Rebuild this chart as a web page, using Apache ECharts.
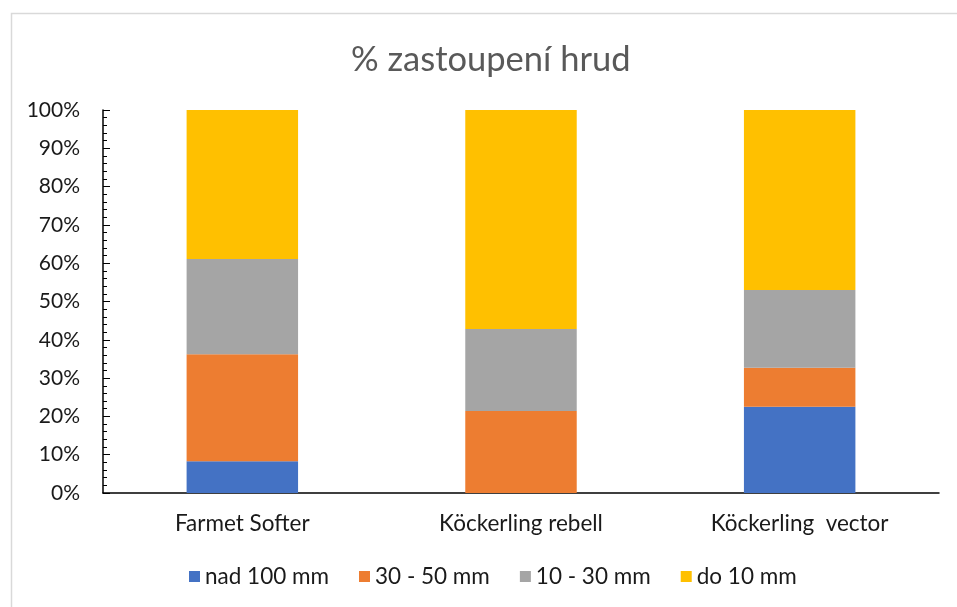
<!DOCTYPE html>
<html>
<head>
<meta charset="utf-8">
<script src="https://cdn.jsdelivr.net/npm/echarts@6/dist/echarts.min.js"></script>
<style>
  html, body { margin: 0; padding: 0; background: #fff; }
  #chart { width: 957px; height: 607px; }
</style>
</head>
<body>
<div id="chart"></div>
<script>
// kategorie a podíly (v %)
const categories = ['Farmet Softer', 'Köckerling rebell', 'Köckerling  vector']
const nad100 = [8.3, 0, 22.5]
const od30do50 = [27.9, 21.4, 10.2]
const od10do30 = [24.9, 21.4, 20.3]
const do10 = [38.9, 57.2, 47.0]
const seriesNames = ['nad 100 mm', '30 - 50 mm', '10 - 30 mm', 'do 10 mm']
const colors = ['#4472C4', '#ED7D31', '#A5A5A5', '#FFC000']

const font = "Lato, 'Open Sans', sans-serif"
const chart = echarts.init(document.getElementById('chart'))

const makeSeries = (name, data, color) => ({
  name,
  type: 'bar',
  stack: 'x',
  data,
  barWidth: '40%',
  itemStyle: { color },
  emphasis: { disabled: true }
})

const option = {
  animation: false,
  // rámeček grafu (vidět jen vlevo a nahoře)
  graphic: [{
    type: 'rect',
    left: 9, top: 11,
    shape: { width: 1000, height: 700 },
    style: { fill: 'none', stroke: '#d9d9d9', lineWidth: 1.5 },
    silent: true
  }],
  title: {
    text: '% zastoupení hrud',
    left: 346,
    top: 37,
    textStyle: { fontFamily: font, fontSize: 34.5, fontWeight: 'normal', color: '#595959' }
  },
  legend: {
    bottom: 14,
    left: 184,
    icon: 'rect',
    itemWidth: 11,
    itemHeight: 11,
    itemGap: 30,
    data: seriesNames,
    textStyle: { fontFamily: font, fontSize: 22.5, color: '#1a1a1a' }
  },
  grid: { left: 103, right: 18, top: 110, bottom: 114 },
  xAxis: {
    type: 'category',
    data: categories,
    axisLine: { lineStyle: { color: '#000', width: 1.5 } },
    axisTick: { show: false },
    axisLabel: { fontFamily: font, fontSize: 22.5, color: '#1a1a1a', margin: 19 }
  },
  yAxis: {
    type: 'value',
    min: 0,
    max: 100,
    interval: 10,
    axisLine: { show: true, lineStyle: { color: '#000', width: 1.5 } },
    axisTick: { show: true, inside: true, length: 7, lineStyle: { color: '#000' } },
    minorTick: { show: true, splitNumber: 5, length: 4, lineStyle: { color: '#000' } },
    splitLine: { show: false },
    axisLabel: {
      fontFamily: font, fontSize: 21, color: '#1a1a1a', margin: 23,
      formatter: v => v + '%'
    }
  },
  series: [
    makeSeries(seriesNames[0], nad100, colors[0]),
    makeSeries(seriesNames[1], od30do50, colors[1]),
    makeSeries(seriesNames[2], od10do30, colors[2]),
    makeSeries(seriesNames[3], do10, colors[3])
  ]
}
chart.setOption(option)
</script>
</body>
</html>
